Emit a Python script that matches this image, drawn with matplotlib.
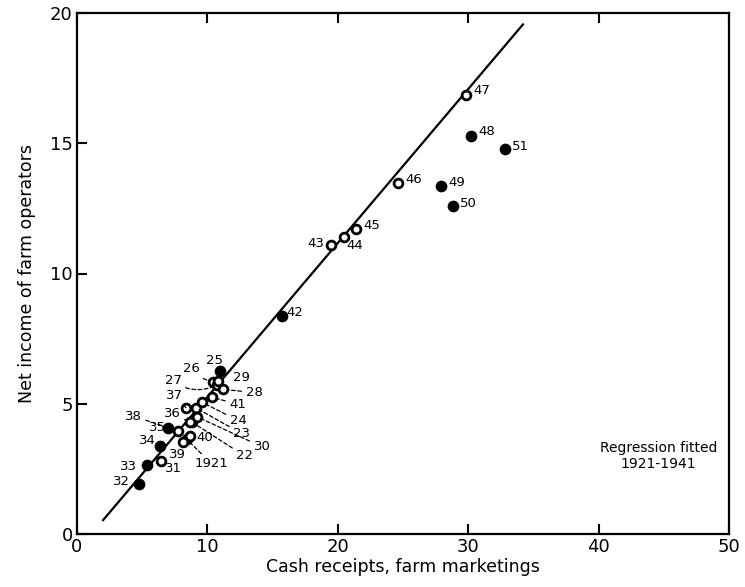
import matplotlib
matplotlib.use("Agg")
import matplotlib.pyplot as plt
import numpy as np

# years and values (billions of dollars)
years = ["1921", "22", "23", "24", "25", "26", "27", "28", "29", "30",
         "31", "32", "33", "34", "35", "36", "37", "38", "39", "40",
         "41", "42", "43", "44", "45", "46", "47", "48", "49", "50", "51"]
cash_receipts = [8.4, 8.8, 9.1, 9.6, 11.0, 10.45, 10.75, 11.2, 10.85, 9.2,
                 6.42, 4.78, 5.38, 6.35, 7.0, 8.67, 8.35, 7.77, 8.1, 8.7,
                 10.33, 15.7, 19.45, 20.45, 21.4, 24.64, 29.8, 30.2, 27.94, 28.83, 32.8]
net_income = [3.65, 4.3, 4.85, 5.05, 6.25, 5.85, 5.72, 5.55, 5.88, 4.5,
              2.80, 1.91, 2.63, 3.38, 4.06, 4.3, 4.85, 3.95, 3.55, 3.75,
              5.25, 8.37, 11.09, 11.39, 11.70, 13.46, 16.85, 15.29, 13.37, 12.58, 14.77]
solid_years = ["25", "32", "33", "34", "35", "42", "48", "49", "50", "51"]

# regression fitted 1921-1941
reg_slope = 0.591
reg_intercept = -0.65
reg_x_range = [2.0, 34.2]

# label placement: (dx, dy) in pixels, horizontal alignment, dashed leader?
label_pos = {
    "1921": (25, -25, "center", True), "22": (53, -34, "center", True),
    "23": (46, -26, "center", True), "24": (36, -18, "center", True),
    "25": (-6, 11, "center", False), "26": (-22, 13, "center", True),
    "27": (-44, 4, "center", True), "28": (31, -3, "center", True),
    "29": (23, 3, "center", False), "30": (65, -30, "center", True),
    "31": (13, -7, "center", False), "32": (-18, 3, "center", False),
    "33": (-19, -1, "center", False), "34": (-12, 5, "center", False),
    "35": (-11, 1, "center", False), "36": (-18, 8, "center", True),
    "37": (-11, 12, "center", True), "38": (-45, 15, "center", True),
    "39": (-5, -13, "center", False), "40": (14, -1, "center", False),
    "41": (26, -7, "center", True), "42": (5, 3, "left", False),
    "43": (-6, 2, "right", False), "44": (3, -8, "left", False),
    "45": (7, 4, "left", False), "46": (7, 4, "left", False),
    "47": (8, 5, "left", False), "48": (8, 4, "left", False),
    "49": (7, 3, "left", False), "50": (7, 3, "left", False),
    "51": (7, 3, "left", False),
}
curved = {"26": 0.2, "27": 0.3}

fig = plt.figure(figsize=(7.45, 5.87), dpi=100)
ax = fig.add_axes([77 / 745, 1 - 534 / 587, (729 - 77) / 745, (534 - 13) / 587])

xs = np.array(reg_x_range)
ax.plot(xs, reg_intercept + reg_slope * xs, color="black", lw=1.6, zorder=2)

for yr, cx, ny in zip(years, cash_receipts, net_income):
    if yr in solid_years:
        ax.scatter(cx, ny, s=55, color="black", zorder=3)
    else:
        ax.scatter(cx, ny, s=40, facecolor="white", edgecolor="black",
                   linewidths=2.0, zorder=3)
    dx, dy, ha, leader = label_pos[yr]
    if leader:
        ax.annotate(yr, (cx, ny), xytext=(dx, dy), textcoords="offset pixels",
                    ha=ha, va="center", fontsize=9.5,
                    arrowprops=dict(arrowstyle="-", linestyle=(0, (3, 2)),
                                    lw=0.9, color="black", shrinkA=1, shrinkB=3,
                                    connectionstyle="arc3,rad=%s" % curved.get(yr, 0)))
    else:
        ax.annotate(yr, (cx, ny), xytext=(dx, dy), textcoords="offset pixels",
                    ha=ha, va="center", fontsize=9.5)

ax.text(44.6, 3.0, "Regression fitted\n1921-1941", ha="center", va="center",
        fontsize=10, linespacing=1.2)

ax.set_xlim(0, 50)
ax.set_ylim(0, 20)
ax.set_xticks([0, 10, 20, 30, 40, 50])
ax.set_yticks([0, 5, 10, 15, 20])
ax.tick_params(direction="in", length=7, width=1.5, labelsize=13, top=True,
               pad=3)
for sp in ax.spines.values():
    sp.set_linewidth(1.6)

ax.set_xlabel("Cash receipts, farm marketings", fontsize=12.5, labelpad=1)
ax.set_ylabel("Net income of farm operators", fontsize=12.5, labelpad=10)

fig.savefig("out.png", dpi=100)
